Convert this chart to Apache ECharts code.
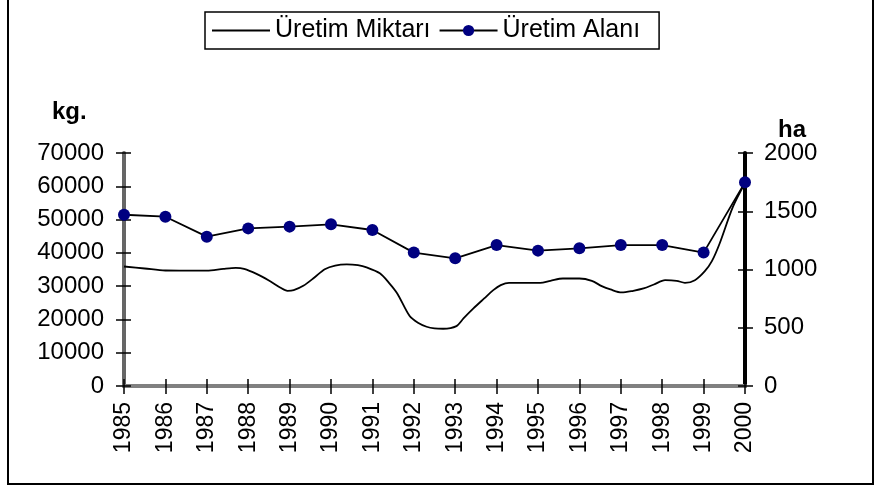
<!DOCTYPE html>
<html>
<head>
    <meta charset="utf-8">
    <script src="https://cdn.jsdelivr.net/npm/echarts@6/dist/echarts.min.js"></script>
    <style>
        body {
            margin: 0px;
            padding: 0px;
            background: white;
        }
    </style>
</head>
<body>
    <div id="chart" style="width: 883px;height:489px;"></div>
    <script>
        var years = [1985, 1986, 1987, 1988, 1989, 1990, 1991, 1992, 1993, 1994, 1995, 1996, 1997, 1998, 1999, 2000];
        // Üretim Alanı (ha), one value per year
        var alanValues = [1470, 1453, 1282, 1353, 1368, 1388, 1339, 1145, 1096, 1210, 1162, 1182, 1210, 1210, 1145, 1748];
        // Üretim Miktarı (kg.)
        var miktarYears = [1985, 1985.5, 1986, 1986.5, 1987, 1987.4, 1987.7, 1987.9, 1988.2, 1988.5, 1988.77, 1988.95,
            1989.1, 1989.33, 1989.6, 1989.85, 1990.1, 1990.38, 1990.65, 1990.86, 1991.18, 1991.4, 1991.6, 1991.9,
            1992.1, 1992.31, 1992.5, 1992.71, 1993.03, 1993.2, 1993.44, 1993.7, 1993.92, 1994.1, 1994.3, 1995.05,
            1995.3, 1995.6, 1996, 1996.3, 1996.54, 1996.75, 1997.02, 1997.3, 1997.55, 1997.8, 1998.07, 1998.35,
            1998.55, 1998.79, 1999.03, 1999.2, 1999.39, 1999.71, 2000];
        var miktarValues = [35900, 35300, 34700, 34650, 34650, 35200, 35500, 35200, 33700, 31700, 29600, 28600,
            28800, 30100, 32600, 35100, 36200, 36550, 36300, 35650, 33850, 31000, 27800, 21000,
            19000, 17800, 17300, 17200, 18000, 20300, 23300, 26300, 28800, 30300, 31000, 31000,
            31600, 32300, 32300, 31600, 30000, 29000, 28100, 28600, 29300, 30500, 31800, 31600,
            31000, 31800, 34500, 37500, 42900, 53900, 61000];
        var leftTicks = { min: 0, max: 70000, interval: 10000 };
        var rightTicks = { min: 0, max: 2000, interval: 500 };

        var font = 'Liberation Sans';
        var fs = 24;
        var chart = echarts.init(document.getElementById('chart'));

        var tickStyle = { color: '#000', width: 1.5 };
        var plain = function (v) { return String(v); };

        chart.setOption({
            animation: false,
            textStyle: { fontFamily: font },
            grid: { left: 124, right: 138, top: 153, bottom: 103 },
            legend: {
                left: 205,
                top: 12,
                padding: [6, 19, 6, 7],
                itemGap: 8,
                itemWidth: 58,
                itemHeight: 14,
                borderColor: '#000',
                borderWidth: 1.5,
                borderRadius: 0,
                textStyle: { fontSize: 25, color: '#000', fontFamily: font },
                data: [
                    { name: 'Üretim Miktarı', icon: 'path://M0,0L52,0L52,1.6L0,1.6Z' },
                    { name: 'Üretim Alanı' }
                ]
            },
            graphic: [
                { type: 'rect', shape: { x: 8, y: -4, width: 865, height: 488 },
                  style: { fill: 'none', stroke: '#000', lineWidth: 2 } },
                { type: 'text', left: 52, top: 100,
                  style: { text: 'kg.', font: 'bold ' + fs + 'px ' + font, fill: '#000' } },
                { type: 'text', left: 778, top: 118,
                  style: { text: 'ha', font: 'bold ' + fs + 'px ' + font, fill: '#000' } }
            ],
            xAxis: [{
                type: 'value',
                min: years[0],
                max: years[years.length - 1],
                interval: 1,
                position: 'bottom',
                splitLine: { show: false },
                axisLine: { lineStyle: { color: '#666', width: 4 } },
                axisTick: { length: 8, lineStyle: tickStyle },
                axisLabel: {
                    rotate: 90, margin: 16, fontSize: 23, color: '#000', fontFamily: font,
                    formatter: plain
                }
            }, {
                type: 'value',
                min: years[0],
                max: years[years.length - 1],
                interval: 1,
                position: 'bottom',
                splitLine: { show: false },
                axisLine: { show: false },
                axisTick: { inside: true, length: 7, lineStyle: tickStyle },
                axisLabel: { show: false }
            }, {
                type: 'value',
                min: years[0],
                max: years[years.length - 1],
                position: 'top',
                splitLine: { show: false },
                axisLine: { lineStyle: { color: '#808080', width: 4 } },
                axisTick: { show: false },
                axisLabel: { show: false }
            }],
            yAxis: [{
                type: 'value',
                min: leftTicks.min, max: leftTicks.max, interval: leftTicks.interval,
                position: 'left',
                splitLine: { show: false },
                axisLine: { show: true, lineStyle: { color: '#666', width: 4 } },
                axisTick: { show: true, length: 8, lineStyle: tickStyle },
                axisLabel: { margin: 20, fontSize: fs, color: '#000', fontFamily: font, formatter: plain }
            }, {
                type: 'value',
                min: rightTicks.min, max: rightTicks.max, interval: rightTicks.interval,
                position: 'right',
                splitLine: { show: false },
                axisLine: { show: true, lineStyle: { color: '#000', width: 4 } },
                axisTick: { show: true, length: 8, lineStyle: tickStyle },
                axisLabel: { margin: 19, fontSize: fs, color: '#000', fontFamily: font, formatter: plain }
            }, {
                type: 'value',
                min: leftTicks.min, max: leftTicks.max, interval: leftTicks.interval,
                position: 'left',
                splitLine: { show: false },
                axisLine: { show: false },
                axisTick: { show: true, inside: true, length: 7, lineStyle: tickStyle },
                axisLabel: { show: false }
            }, {
                type: 'value',
                min: rightTicks.min, max: rightTicks.max, interval: rightTicks.interval,
                position: 'right',
                splitLine: { show: false },
                axisLine: { show: false },
                axisTick: { show: true, inside: true, length: 7, lineStyle: tickStyle },
                axisLabel: { show: false }
            }],
            series: [{
                name: 'Üretim Miktarı',
                type: 'line',
                xAxisIndex: 0,
                yAxisIndex: 0,
                smooth: 0.3,
                symbol: 'none',
                lineStyle: { color: '#000', width: 1.8 },
                itemStyle: { color: '#000' },
                data: miktarYears.map(function (y, i) { return [y, miktarValues[i]]; })
            }, {
                name: 'Üretim Alanı',
                type: 'line',
                xAxisIndex: 0,
                yAxisIndex: 1,
                symbol: 'circle',
                symbolSize: 12,
                lineStyle: { color: '#000', width: 1.8 },
                itemStyle: { color: '#000080' },
                z: 3,
                data: years.map(function (y, i) { return [y, alanValues[i]]; })
            }]
        });
    </script>
</body>
</html>
